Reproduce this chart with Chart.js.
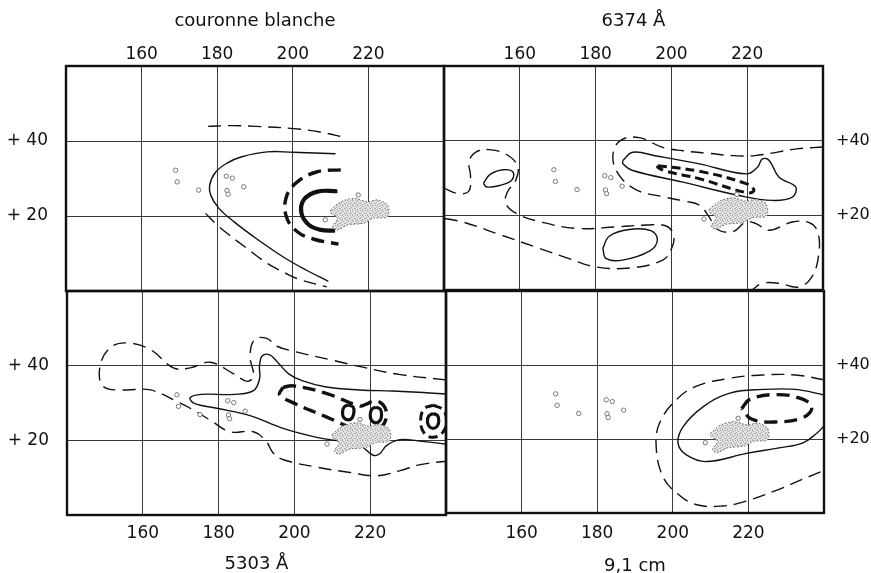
<!DOCTYPE html>
<html><head><meta charset="utf-8">
<script src="https://cdn.jsdelivr.net/npm/chart.js@4/dist/chart.umd.min.js"></script>
<style>
html,body{margin:0;padding:0;background:#fff;width:871px;height:573px;overflow:hidden}
canvas{position:absolute;left:0;top:0}
</style></head>
<body>
<canvas id="c0" width="871" height="573"></canvas>
<canvas id="c1" width="871" height="573"></canvas>
<canvas id="c2" width="871" height="573"></canvas>
<canvas id="c3" width="871" height="573"></canvas>
<script>
// ---------- axes / labels ----------
const xTickValues = [160, 180, 200, 220];
const yTickValues = [20, 40];
const yLabelsLeft = ['+ 20', '+ 40'];
const yLabelsRight = ['+20', '+40'];
const panelTitles = ['couronne blanche', '6374 Å', '5303 Å', '9,1 cm'];

// ---------- shared features (longitude, latitude) ----------
const plage = [[210,21.6],[212.7,23.8],[216.2,24.7],[219.8,23.8],[222.4,24.3],[225.1,22.9],[225.1,19.8],[221.5,19.4],[218.9,18.1],[214.5,17.6],[211.8,16.3],[210.5,17.1],[211.8,19.4],[210,20.8],[210,21.6]];
const specks = [[169,32.2],[169.4,29.1],[175.1,26.9],[182.4,30.6],[184.0,30.1],[182.6,26.8],[182.9,25.8],[187,27.8],[217.3,25.6],[208.6,19.0]];
const spot = [[221,21]];

// ---------- couronne blanche ----------
const cbDashUpper = [[177.6,43.9],[184,44.1],[190,43.9],[200.2,43.3],[207.2,42.4],[213.8,40.9]];
const cbSolid = [[211.3,36.6],[200,37.0],[193.2,37.1],[186.5,35.8],[182.6,34.1],[179.5,31.6],[178.0,28.2],[178.3,25.5],[180.4,22.1],[184.4,18.5],[190.6,13.8],[197.6,9.0],[203.5,5.6],[209.4,2.6]];
const cbDashLower = [[176.9,20.7],[179.8,17.8],[182.6,15.4],[187.8,11.4],[193.2,7.4],[198,4.8],[202,3.0],[209,1.1]];
const cbThickDash = [[212.7,32.3],[206.5,31.8],[201.2,29.1],[198.3,25.1],[198.3,19.8],[201.2,15.8],[205.6,13.8],[212.1,12.5]];
const cbThickSolid = [[211.8,26.6],[206.5,26.5],[202.9,24.3],[202.3,20.7],[204.3,17.6],[207.4,16.3],[211.2,16.1]];

// ---------- 6374 A ----------
const l6DashOuter = [[140,27.3],[143.5,25.9],[146.5,26.4],[147.0,30.5],[146.6,34.5],[148.5,37.0],[152,37.6],[156.5,36.3],[159.4,33.2],[159.0,29.5],[156.7,26.2],[156.3,23.2],[159.1,20.5],[165.3,18.3],[174.9,16.5],[185.4,16.9],[193.5,17.4],[198.5,17.2],[200.5,15.0],[200.2,11.5],[197.7,8.0],[189,5.9],[180,6.2],[173,8.4],[165.3,11.1],[154,15.1],[145,18.2],[140,19.2]];
const l6SolidLeft = [[150.4,28.6],[152.1,30.9],[155.6,32.2],[158.2,31.6],[157.8,29.3],[154.7,28.0],[151.2,27.6],[150.4,28.6]];
const l6SolidLow = [[181.9,11.1],[183.6,14.4],[188.9,16.2],[194.6,15.9],[196.3,13.4],[194.2,10.4],[187.1,8.0],[182.8,8.4],[181.9,11.1]];
const l6DashUpper = [[240,38.3],[233,37.8],[228.3,37.0],[222,36.0],[216.1,36.0],[210,36.6],[203,37.3],[197.7,38.2],[191.5,40.8],[186.8,40.2],[184.6,36.5],[185.8,31.4],[190.6,26.9],[197.7,25.0],[203.5,23.8],[207.4,22.7],[210,19.5],[211.8,16.4],[216.1,15.6],[219.7,18.2],[222.3,17.8],[225.8,16.0],[231.9,18.2],[236.5,18.0],[238.6,15.5],[238.9,9.8],[237.1,3.6],[233.6,0.8],[228.3,1.8],[224,1.8],[221.5,0.2]];
const l6SolidUpper = [[187.2,34.7],[189.8,36.9],[196,35.9],[207.4,33.8],[219.7,31.1],[222.7,32.9],[224.0,35.1],[225.8,34.7],[228.4,30.2],[232.8,27.6],[231.9,24.9],[226.7,24.0],[217.9,25.3],[203,28.9],[189.8,32.0],[187.2,33.8],[187.2,34.7]];
const l6ThickDash = [[196.4,33.3],[207.4,31.8],[219.7,28.5],[221.8,26.7],[220.1,26.0],[207.4,29.8],[198.6,31.8],[196.4,32.9],[196.4,33.3]];

// ---------- 5303 A ----------
const l5DashOuter = [[240,36.2],[228,37.6],[218,39.6],[210.3,41.4],[200,43.8],[195.4,45.2],[192.7,47.3],[189.5,47.0],[188.3,42.5],[189.2,37.3],[187.6,35.8],[184,37.8],[177.8,40.9],[172.5,39.4],[168.1,39.4],[162,44.3],[155.8,46.1],[151.4,44.8],[148.7,39.8],[149.6,34.4],[154.9,33.5],[162,33.5],[169,30.4],[173.4,28.1],[177.8,25.4],[183,22.3],[189.2,22.3],[192.5,19.8],[194.4,16.6],[197.1,14.8],[206,12.8],[214.7,11.4],[221.6,10.5],[227.9,11.9],[233.2,13.5],[240,14.4]];
const l5Solid = [[240,32.4],[234,32.8],[226,33.2],[217.2,33.5],[208.4,34.3],[202,36.0],[198.5,37.8],[195.5,41.0],[193.5,42.9],[191.5,42.6],[190.8,40.0],[190.8,36.5],[189.2,33.3],[184,32.3],[175.5,32.3],[172.5,31.4],[173.6,29.9],[179.5,28.6],[188.3,26.6],[197,23.2],[205.9,20.8],[213,19.6],[217.5,18.5],[220.8,16.0],[222.5,16.4],[224.3,18.6],[227.8,20.2],[233,19.8],[240,19.0]];
const l5ThickDash = [[197,34.2],[199.6,34.6],[208.4,32.6],[217.2,29.2],[219,29.7],[221.2,30.6],[223.4,29.5],[224.3,26.8],[223,23.6],[219.9,22.7],[216.4,22.9],[208.4,26.3],[199.6,30.1],[196.1,32.2],[197,34.2]];
const l5Oval1 = [[214.2,29.5],[215.5,28.9],[215.7,27.5],[215.2,26.0],[214.2,25.5],[213.0,26.1],[212.7,27.5],[213.1,28.9],[214.2,29.5]];
const l5Oval2 = [[221.5,28.9],[222.7,28.3],[223.0,26.8],[222.6,25.3],[221.5,24.7],[220.4,25.3],[220.0,26.8],[220.4,28.3],[221.5,28.9]];
const l5Oval3 = [[236.6,27.2],[237.8,26.6],[238.1,25.2],[237.7,23.8],[236.6,23.2],[235.5,23.8],[235.1,25.2],[235.5,26.6],[236.6,27.2]];
const l5DashRing = [[236.6,29.4],[239.2,28.2],[240.2,25.3],[239.2,22.2],[236.6,20.8],[234.2,22.0],[233.3,25.3],[234.2,28.4],[236.6,29.4]];

// ---------- 9,1 cm ----------
const c9DashOuter = [[240,36.0],[232.5,37.3],[223.7,37.3],[214.9,36.4],[206.1,34.2],[200.9,30.6],[196.5,24.3],[195.6,18.0],[197.3,10.0],[200.9,5.5],[206.1,2.3],[213.2,1.9],[219.3,3.2],[228.1,6.4],[234.3,9.1],[240,11.5]];
const c9Solid = [[240,31.9],[232.5,33.4],[224,33.4],[215.1,32.4],[208,28.7],[202.7,23.3],[201.4,18.8],[203.6,15.7],[208.9,13.9],[219.5,16.1],[228.1,17.6],[234.3,18.9],[238,21.5],[240,23.5]];
const c9ThickDash = [[218.2,28.2],[220.5,30.8],[227.5,32.0],[234.0,30.9],[236.8,28.6],[234.5,25.8],[227.0,24.6],[220.8,25.4],[218.2,28.2]];

// ---------- styling helpers ----------
const INK = '#111';
const styles = {
  thin:      { borderWidth: 1.4, borderDash: [] },
  dash:      { borderWidth: 1.4, borderDash: [13, 7] },
  thickDash: { borderWidth: 3.4, borderDash: [13, 7] },
  shortDash: { borderWidth: 3.0, borderDash: [9, 5] },
  thick:     { borderWidth: 4.2, borderDash: [] },
  oval:      { borderWidth: 3.2, borderDash: [] }
};
const toXY = arr => arr.map(([x, y]) => ({ x, y }));
function curve(arr, kind) {
  return Object.assign({ data: toXY(arr), showLine: true, pointRadius: 0, borderColor: INK,
    backgroundColor: 'transparent', tension: 0.4, fill: false, borderCapStyle: 'butt' }, styles[kind]);
}
function stipple() {
  const c = document.createElement('canvas'); c.width = 5; c.height = 5;
  const g = c.getContext('2d');
  g.fillStyle = '#e4e4e4'; g.fillRect(0, 0, 5, 5);
  g.fillStyle = '#a8a8a8';
  [[0,0],[3,1],[1,2],[4,3],[2,4],[2,0],[0,3]].forEach(([x, y]) => g.fillRect(x, y, 1, 1));
  return g.createPattern(c, 'repeat');
}
function sharedSets() {
  return [
    { data: toXY(plage), showLine: true, pointRadius: 0, tension: 0.3, fill: 'shape',
      backgroundColor: stipple(), borderColor: '#666', borderWidth: 1, borderDash: [1.5, 2] },
    { data: toXY(specks), showLine: false, pointRadius: 2.2, pointStyle: 'circle',
      borderColor: '#777', borderWidth: 1, backgroundColor: '#fff' },
    { data: toXY(spot), showLine: false, pointRadius: 4, backgroundColor: '#000', borderColor: '#000' }
  ];
}

const frame = {
  id: 'frame',
  afterDraw(chart) {
    const { ctx, chartArea: a } = chart;
    ctx.save(); ctx.strokeStyle = INK; ctx.lineWidth = 2.4;
    ctx.strokeRect(a.left, a.top, a.right - a.left, a.bottom - a.top);
    ctx.restore();
  }
};

Chart.defaults.font.family = "'DejaVu Sans', sans-serif";
Chart.defaults.font.size = 17;
Chart.defaults.color = INK;

function makePanel(id, cfg) {
  const W = 871, H = 573, a = cfg.area;
  const xH = cfg.xPos === 'top' ? 60 : 58;
  const yW = cfg.yPos === 'left' ? 62 : 48;
  const padding = {
    left: cfg.yPos === 'left' ? a.left - yW : a.left,
    right: cfg.yPos === 'right' ? W - a.right - yW : W - a.right,
    top: cfg.xPos === 'top' ? a.top - xH : a.top,
    bottom: cfg.xPos === 'bottom' ? H - a.bottom - xH : H - a.bottom
  };
  const yLabels = cfg.yPos === 'left' ? yLabelsLeft : yLabelsRight;
  new Chart(document.getElementById(id), {
    type: 'scatter',
    data: { datasets: sharedSets().concat(cfg.datasets) },
    options: {
      responsive: false, animation: false, devicePixelRatio: 1, events: [],
      layout: { padding, autoPadding: false },
      plugins: { legend: { display: false }, tooltip: { enabled: false } },
      scales: {
        x: {
          type: 'linear', position: cfg.xPos, min: 140, max: 240,
          afterBuildTicks: s => { s.ticks = xTickValues.map(v => ({ value: v })); },
          afterFit: s => { s.height = xH; },
          grid: { color: '#3a3a3a', lineWidth: 1, drawTicks: false },
          border: { display: false },
          ticks: { padding: cfg.xTickPad, maxRotation: 0, autoSkip: false, callback: v => String(v) },
          title: { display: true, text: cfg.title, font: { size: 18 }, padding: cfg.titlePad }
        },
        y: {
          type: 'linear', position: cfg.yPos, min: 0, max: 60,
          afterBuildTicks: s => { s.ticks = yTickValues.map(v => ({ value: v })); },
          afterFit: s => { s.width = yW; },
          grid: { color: '#3a3a3a', lineWidth: 1, drawTicks: false },
          border: { display: false },
          ticks: { padding: cfg.yTickPad, autoSkip: false, font: { size: cfg.yFont },
                   callback: v => yLabels[yTickValues.indexOf(v)] }
        }
      }
    },
    plugins: [frame]
  });
}

makePanel('c0', {
  area: { left: 66, top: 66, right: 444, bottom: 291 }, xPos: 'top', yPos: 'left',
  xTickPad: 1, yTickPad: 18, yFont: 17, title: panelTitles[0], titlePad: { top: 5, bottom: 0 },
  datasets: [curve(cbDashUpper, 'dash'), curve(cbSolid, 'thin'), curve(cbDashLower, 'dash'),
             curve(cbThickDash, 'thickDash'), curve(cbThickSolid, 'thick')]
});
makePanel('c1', {
  area: { left: 444, top: 66, right: 823, bottom: 290 }, xPos: 'top', yPos: 'right',
  xTickPad: 1, yTickPad: 13, yFont: 16, title: panelTitles[1], titlePad: { top: 5, bottom: 0 },
  datasets: [curve(l6DashOuter, 'dash'), curve(l6SolidLeft, 'thin'), curve(l6SolidLow, 'thin'),
             curve(l6DashUpper, 'dash'), curve(l6SolidUpper, 'thin'), curve(l6ThickDash, 'shortDash')]
});
makePanel('c2', {
  area: { left: 67, top: 291, right: 446, bottom: 515 }, xPos: 'bottom', yPos: 'left',
  xTickPad: 8, yTickPad: 18, yFont: 17, title: panelTitles[2], titlePad: { top: 0, bottom: -2 },
  datasets: [curve(l5DashOuter, 'dash'), curve(l5Solid, 'thin'), curve(l5ThickDash, 'thickDash'),
             curve(l5Oval1, 'oval'), curve(l5Oval2, 'oval'), curve(l5Oval3, 'oval'), curve(l5DashRing, 'shortDash')]
});
makePanel('c3', {
  area: { left: 446, top: 291, right: 824, bottom: 513 }, xPos: 'bottom', yPos: 'right',
  xTickPad: 10, yTickPad: 12, yFont: 16, title: panelTitles[3], titlePad: { top: 0, bottom: -6 },
  datasets: [curve(c9DashOuter, 'dash'), curve(c9Solid, 'thin'), curve(c9ThickDash, 'thickDash')]
});
</script>
</body></html>
